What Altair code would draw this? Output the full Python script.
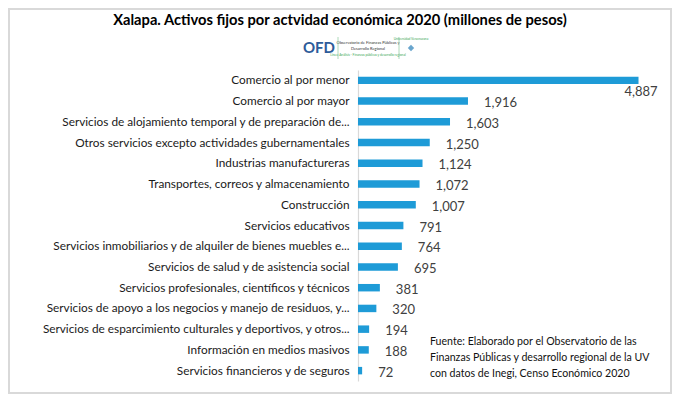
import altair as alt
import pandas as pd

cats = [
    "Comercio al por menor",
    "Comercio al por mayor",
    "Servicios de alojamiento temporal y de preparación de...",
    "Otros servicios excepto actividades gubernamentales",
    "Industrias manufactureras",
    "Transportes, correos y almacenamiento",
    "Construcción",
    "Servicios educativos",
    "Servicios inmobiliarios y de alquiler de bienes muebles e...",
    "Servicios de salud y de asistencia social",
    "Servicios profesionales, científicos y técnicos",
    "Servicios de apoyo a los negocios y manejo de residuos, y...",
    "Servicios de esparcimiento culturales y deportivos, y otros...",
    "Información en medios masivos",
    "Servicios financieros y de seguros",
]
vals = [4887, 1916, 1603, 1250, 1124, 1072, 1007, 791, 764, 695, 381, 320, 194, 188, 72]

title_text = "Xalapa. Activos fijos por actvidad económica 2020 (millones de pesos)"
note_lines = [
    "Fuente: Elaborado por el Observatorio de las",
    "Finanzas Públicas  y desarrollo regional de la UV",
    "con  datos de Inegi, Censo Económico 2020",
]

df = pd.DataFrame({"cat": cats, "v": vals})
one = pd.DataFrame({"a": [0]})

FONT = "Lato"
W, H = 287, 311

y_enc = alt.Y(
    "cat:N",
    sort=cats,
    title=None,
    scale=alt.Scale(paddingInner=0.64, paddingOuter=0.32),
    axis=alt.Axis(
        domain=True, domainColor="#d9d9d9", domainWidth=1.2,
        ticks=False, grid=False, labelPadding=9, labelLimit=0,
        labelFont=FONT, labelFontSize=11.8, labelColor="#1a1a1a",
    ),
)
x_enc = alt.X("v:Q", scale=alt.Scale(domain=[0, 5000]), axis=None)

bars = alt.Chart(df).mark_bar(color="#1E9BD7").encode(x=x_enc, y=y_enc)

labels = alt.Chart(df).transform_filter(alt.datum.cat != cats[0]).mark_text(
    align="left", baseline="middle", dx=16, dy=2, font=FONT, fontSize=13, color="#404040"
).encode(x=x_enc, y=y_enc, text=alt.Text("v:Q", format=","))

label_first = alt.Chart(df).transform_filter(alt.datum.cat == cats[0]).mark_text(
    align="left", baseline="middle", dx=-14, dy=12, font=FONT, fontSize=13, color="#404040"
).encode(x=x_enc, y=y_enc, text=alt.Text("v:Q", format=","))

title = alt.Chart(one).mark_text(
    align="center", baseline="middle", font=FONT, fontSize=14.7, fontWeight="bold", color="#000000"
).encode(x=alt.value(-18), y=alt.value(-49), text=alt.value(title_text))

ofd = alt.Chart(one).mark_text(
    align="center", baseline="middle", font=FONT, fontSize=15, fontWeight="bold", color="#2E5C9A"
).encode(x=alt.value(-39), y=alt.value(-22), text=alt.value("OFD"))

logo_small = alt.Chart(one).mark_text(
    align="center", baseline="middle", font=FONT, fontSize=4, color="#333333", lineHeight=6
).encode(x=alt.value(10), y=alt.value(-27),
         text=alt.value(["Observatorio de Finanzas Públicas y", "Desarrollo Regional"]))

logo_green = alt.Chart(one).mark_text(
    align="center", baseline="middle", font=FONT, fontSize=3.2, color="#3aa655"
).encode(x=alt.value(10), y=alt.value(-15),
         text=alt.value("Línea: Análisis - Finanzas públicas y desarrollo regional"))

sep1 = alt.Chart(one).mark_rule(color="#9bcfa8", strokeWidth=0.8).encode(
    x=alt.value(-20), y=alt.value(-33), y2=alt.value(-11))
sep2 = alt.Chart(one).mark_rule(color="#9bcfa8", strokeWidth=0.8).encode(
    x=alt.value(41), y=alt.value(-33), y2=alt.value(-11))

uv_text = alt.Chart(one).mark_text(
    align="center", baseline="middle", font=FONT, fontSize=3.2, color="#3aa655"
).encode(x=alt.value(53), y=alt.value(-31), text=alt.value("Universidad Veracruzana"))

emblem = alt.Chart(one).mark_point(
    shape="diamond", filled=True, color="#2a7fb8", size=40
).encode(x=alt.value(53), y=alt.value(-22))

note = alt.Chart(one).mark_text(
    align="left", baseline="middle", font=FONT, fontSize=10.6, color="#111111", lineHeight=16
).encode(x=alt.value(72), y=alt.value(272), text=alt.value(note_lines))

border = alt.Chart(one).mark_rect(
    fillOpacity=0, stroke="#d9d9d9", strokeWidth=2
).encode(x=alt.value(-349), x2=alt.value(313), y=alt.value(-61), y2=alt.value(323))

chart = alt.layer(
    border, bars, labels, label_first, title, ofd, logo_small, logo_green,
    sep1, sep2, uv_text, emblem, note
).properties(
    width=W, height=H,
    padding={"left": 350, "top": 62, "right": 27, "bottom": 13},
    autosize="none",
    background="#ffffff",
).configure_view(stroke=None)

chart.save("out.html", embed_options={"renderer": "svg", "actions": False})
